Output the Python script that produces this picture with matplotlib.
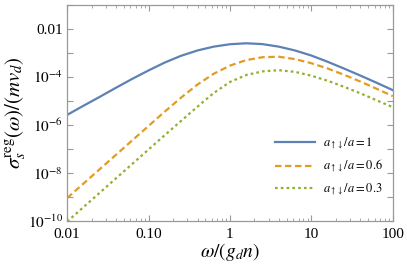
"""Regular part of the spin conductivity vs frequency"""
import numpy as np
import matplotlib
matplotlib.use('Agg')
import matplotlib.pyplot as plt
from matplotlib.ticker import FixedLocator, NullLocator, LogLocator

plt.rcParams['font.family'] = ['Liberation Serif', 'DejaVu Serif']
plt.rcParams['mathtext.fontset'] = 'stix'

# values, as log10
log_omega = [-2.0, -1.8, -1.6, -1.4, -1.2, -1.0, -0.8, -0.6, -0.4, -0.2, 0.0,
             0.2, 0.4, 0.6, 0.8, 1.0, 1.2, 1.4, 1.6, 1.8, 2.0]
log_sigma_10 = [-5.59, -5.21, -4.84, -4.46, -4.09, -3.74, -3.41, -3.13, -2.91, -2.75, -2.65,
                -2.61, -2.645, -2.75, -2.91, -3.12, -3.38, -3.66, -3.95, -4.25, -4.56]
log_sigma_06 = [-9.05, -8.45, -7.85, -7.25, -6.65, -6.05, -5.45, -4.87, -4.33, -3.88, -3.54,
                -3.31, -3.19, -3.17, -3.27, -3.44, -3.66, -3.92, -4.20, -4.50, -4.81]
log_sigma_03 = [-10.03, -9.43, -8.83, -8.23, -7.63, -7.03, -6.43, -5.84, -5.25, -4.68, -4.22,
                -3.93, -3.78, -3.73, -3.80, -3.96, -4.17, -4.42, -4.69, -4.98, -5.27]
labels = [r'$a_{\uparrow\downarrow}/a = 1$', r'$a_{\uparrow\downarrow}/a = 0.6$',
          r'$a_{\uparrow\downarrow}/a = 0.3$']

x_ticks = [0.01, 0.1, 1, 10, 100]
x_ticklabels = ['0.01', '0.10', '1', '10', '100']
y_ticks = [1e-10, 1e-9, 1e-8, 1e-7, 1e-6, 1e-5, 1e-4, 1e-3, 1e-2, 1e-1]
y_ticklabels = [r'$10^{-10}$', '', r'$10^{-8}$', '', r'$10^{-6}$', '',
                r'$10^{-4}$', '', '0.01', '']

omega = 10 ** np.array(log_omega)

fig = plt.figure(figsize=(4.07, 2.70), dpi=100)
ax = fig.add_axes([0.165, 0.182, 0.800, 0.801])

ax.plot(omega, 10 ** np.array(log_sigma_10), color='#5E81B5', lw=1.6,
        label=labels[0])
ax.plot(omega, 10 ** np.array(log_sigma_06), color='#E19C24', lw=1.6,
        dashes=(2.9, 1.6), label=labels[1])
ax.plot(omega, 10 ** np.array(log_sigma_03), color='#8FB032', lw=1.6,
        dashes=(1.2, 1.4), label=labels[2])

ax.set_xscale('log')
ax.set_yscale('log')
ax.set_xlim(0.01, 100)
ax.set_ylim(1e-10, 1e-1)

ax.xaxis.set_major_locator(FixedLocator(x_ticks))
ax.set_xticklabels(x_ticklabels)
ax.xaxis.set_minor_locator(LogLocator(base=10, subs=np.arange(2, 10), numticks=20))
ax.yaxis.set_major_locator(FixedLocator(y_ticks))
ax.set_yticklabels(y_ticklabels)
ax.yaxis.set_minor_locator(NullLocator())

for s in ax.spines.values():
    s.set_color('#999999')
    s.set_linewidth(0.9)
ax.tick_params(which='both', direction='in', top=True, right=True,
               color='#999999', labelsize=11)
ax.tick_params(axis='x', pad=5)
ax.tick_params(axis='y', pad=3)
ax.tick_params(which='major', length=4, width=0.8)
ax.tick_params(which='minor', length=2.2, width=0.6)

ax.set_xlabel(r'$\omega/(g_d n)$', fontsize=14, labelpad=0)
ax.set_ylabel(r'$\sigma_s^{\rm reg}(\omega)/(m v_d)$', fontsize=15, labelpad=0)

ax.legend(loc='center right', frameon=False, fontsize=9, handlelength=3.2,
          labelspacing=0.5, handletextpad=0.65, borderaxespad=0,
          bbox_to_anchor=(0.985, 0.25))

fig.savefig('out.png', dpi=100)
